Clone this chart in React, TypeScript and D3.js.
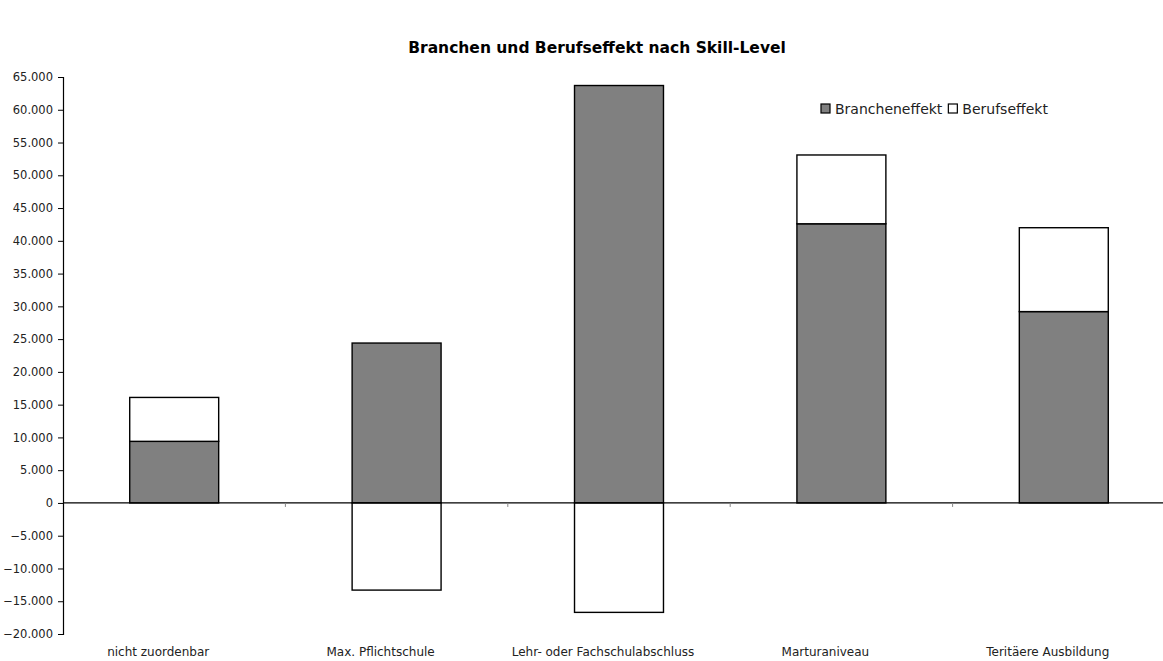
import { useEffect, useRef } from 'react';
import * as d3 from 'd3';

const categories = [
  'nicht zuordenbar',
  'Max. Pflichtschule',
  'Lehr- oder Fachschulabschluss',
  'Marturaniveau',
  'Teritäere Ausbildung',
];
const branchenEffekt = [9400, 24400, 63700, 42600, 29200];
const berufsEffekt = [6700, -13300, -16700, 10500, 12800];
const seriesNames = ['Brancheneffekt', 'Berufseffekt'];
const seriesColors = ['#808080', '#ffffff'];
const yTicks = d3.range(-20000, 65001, 5000);

const W = 1163;
const H = 661;
const FONT = '"DejaVu Sans", sans-serif';

export default function App() {
  const svgRef = useRef<SVGSVGElement>(null);

  useEffect(() => {
    if (!svgRef.current) return;
    const svg = d3.select(svgRef.current);
    svg.selectAll('*').remove();

    const margin = { left: 63, right: -12, top: 77, bottom: 27 };

    const x = d3.scaleBand<string>()
      .domain(categories)
      .range([margin.left, W - margin.right])
      .paddingInner(0.6)
      .paddingOuter(0.3);

    const y = d3.scaleLinear()
      .domain([-20000, 65000])
      .range([H - margin.bottom, margin.top]);

    const rows = categories.map((c, i) => ({
      cat: c,
      Brancheneffekt: branchenEffekt[i],
      Berufseffekt: berufsEffekt[i],
    }));

    const stacked = d3.stack<any>()
      .keys(seriesNames)
      .offset(d3.stackOffsetDiverging)(rows);

    // Title
    svg.append('text')
      .attr('x', 597)
      .attr('y', 53)
      .attr('text-anchor', 'middle')
      .attr('font-family', FONT)
      .attr('font-weight', 'bold')
      .attr('font-size', 15.5)
      .attr('fill', '#000')
      .text('Branchen und Berufseffekt nach Skill-Level');

    // Bars
    stacked.forEach((layer, si) => {
      svg.append('g')
        .selectAll('rect')
        .data(layer)
        .join('rect')
        .attr('x', d => x(d.data.cat) || 0)
        .attr('width', x.bandwidth())
        .attr('y', d => y(Math.max(d[0], d[1])))
        .attr('height', d => Math.abs(y(d[0]) - y(d[1])))
        .attr('fill', seriesColors[si])
        .attr('stroke', '#000')
        .attr('stroke-width', 1.4);
    });

    // Y axis
    const yAxis = svg.append('g')
      .attr('transform', `translate(${margin.left},0)`)
      .call(d3.axisLeft(y)
        .tickValues(yTicks)
        .tickSize(5)
        .tickPadding(5)
        .tickFormat(d => d3.format(',')(Number(d)).replace(/,/g, '.')));
    yAxis.select('.domain').attr('stroke', '#000').attr('stroke-width', 1.2);
    yAxis.selectAll('.tick line').attr('stroke', '#000');
    yAxis.selectAll('.tick text')
      .attr('font-family', FONT)
      .attr('font-size', 11.5)
      .attr('fill', '#222');

    // Zero line with category boundary ticks
    const y0 = y(0);
    svg.append('line')
      .attr('x1', margin.left)
      .attr('x2', W)
      .attr('y1', y0)
      .attr('y2', y0)
      .attr('stroke', '#000')
      .attr('stroke-width', 1.2);

    const step = x.step();
    const bounds = categories.slice(1).map(c => (x(c) || 0) - step * x.paddingInner() / 2);
    svg.append('g')
      .selectAll('line')
      .data(bounds)
      .join('line')
      .attr('x1', d => d)
      .attr('x2', d => d)
      .attr('y1', y0)
      .attr('y2', y0 + 4)
      .attr('stroke', '#888');

    // Category labels
    svg.append('g')
      .selectAll('text')
      .data(categories)
      .join('text')
      .attr('x', d => (x(d) || 0) + x.bandwidth() / 2 - 16)
      .attr('y', 656)
      .attr('text-anchor', 'middle')
      .attr('font-family', FONT)
      .attr('font-size', 12)
      .attr('fill', '#222')
      .text(d => d);

    // Legend
    const legend = svg.append('g').attr('transform', 'translate(821,104)');
    let lx = 0;
    seriesNames.forEach((name, i) => {
      legend.append('rect')
        .attr('x', lx)
        .attr('y', 0)
        .attr('width', 9)
        .attr('height', 9)
        .attr('fill', seriesColors[i])
        .attr('stroke', '#000')
        .attr('stroke-width', 1.2);
      const t = legend.append('text')
        .attr('x', lx + 14)
        .attr('y', 10)
        .attr('font-family', FONT)
        .attr('font-size', 14)
        .attr('fill', '#222')
        .text(name);
      const len = (t.node() as SVGTextElement).getComputedTextLength();
      lx += 14 + len + 6;
    });
  }, []);

  return (
    <svg
      ref={svgRef}
      width={W}
      height={H}
      style={{ position: 'absolute', left: 0, top: 0, background: '#fff', display: 'block' }}
    />
  );
}
